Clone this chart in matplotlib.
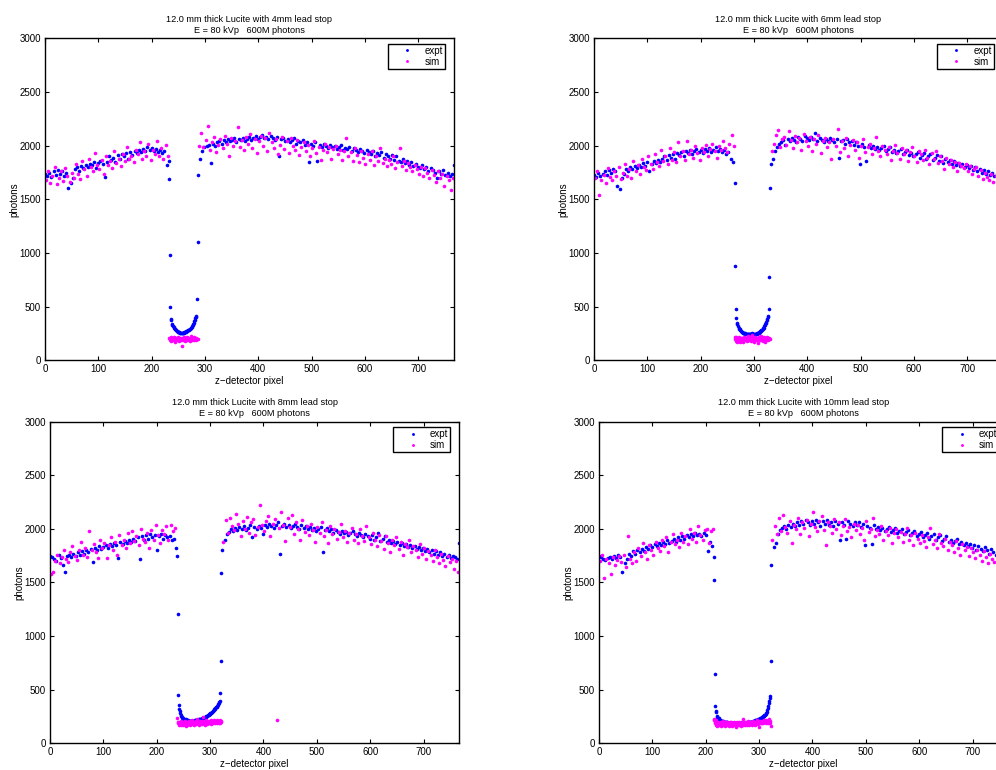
import numpy as np
import matplotlib
matplotlib.use("Agg")
import matplotlib.pyplot as plt

plt.rcParams['font.family'] = ['Liberation Sans', 'DejaVu Sans']
plt.rcParams['font.size'] = 7

# ---- 4 mm lead stop ----
expt_left_4 = [1740, 1720, 1750, 1710, 1760, 1730, 1770, 1740, 1760, 1720,
               1750, 1610, 1650, 1700, 1780, 1800, 1760, 1810, 1790, 1820,
               1800, 1830, 1820, 1850, 1790, 1840, 1860, 1830, 1710, 1850,
               1900, 1870, 1890, 1850, 1910, 1880, 1920, 1900, 1930, 1880,
               1940, 1910, 1950, 1930, 1960, 1940, 1970, 1950, 1990, 1960,
               1980, 1950, 1970, 1940, 1960, 1930, 1950, 1820, 1860]
expt_stop_4 = [1690, 980, 500, 385, 380, 335, 325, 320, 310, 300,
               295, 290, 285, 280, 275, 272, 268, 265, 262, 260,
               258, 255, 255, 252, 255, 255, 258, 255, 260, 262,
               265, 268, 270, 272, 275, 278, 280, 285, 288, 292,
               298, 305, 312, 320, 330, 340, 352, 365, 380, 395,
               405, 415, 570, 1100]
expt_right_4 = [1730, 1880, 1950, 1990, 2000, 2010, 1840, 2020, 2000, 2030,
                2040, 2020, 2050, 2030, 2060, 2040, 2050, 2070, 2030, 2060,
                2050, 2070, 2040, 2060, 2080, 2050, 2070, 2090, 2060, 2080,
                2100, 2070, 2080, 2060, 2090, 2070, 2050, 2080, 1900, 2060,
                2070, 2040, 2060, 2030, 2050, 2070, 2020, 2040, 2030, 2050,
                2010, 2030, 1850, 2020, 2000, 2030, 1860, 2010, 1990, 2020,
                2000, 1980, 2010, 1990, 2000, 1970, 1990, 2010, 1960, 1980,
                1970, 1990, 1950, 1980, 1960, 1940, 1970, 1950, 1930, 1960,
                1940, 1920, 1950, 1900, 1930, 1910, 1940, 1890, 1920, 1900,
                1880, 1910, 1870, 1900, 1860, 1850, 1880, 1840, 1860, 1820,
                1850, 1810, 1830, 1800, 1790, 1820, 1780, 1800, 1760, 1790,
                1770, 1750, 1700, 1760, 1740, 1770, 1730, 1750, 1720, 1740,
                1820]
sim_left_4 = [1680, 1760, 1650, 1720, 1800, 1640, 1700, 1760, 1670, 1790,
              1720, 1660, 1750, 1700, 1830, 1740, 1690, 1860, 1780, 1720,
              1880, 1800, 1760, 1930, 1820, 1780, 1870, 1740, 1900, 1820,
              1860, 1790, 1950, 1840, 1880, 1810, 1920, 1860, 1990, 1880,
              1900, 1850, 1960, 1920, 2030, 1880, 1950, 1900, 2020, 1870,
              1960, 1920, 2040, 1900, 1980, 1880, 2010, 1900]
sim_stop_4 = [210, 190, 205, 180, 215, 195, 200, 185, 220, 190,
              205, 175, 195, 210, 185, 200, 190, 215, 180, 200,
              195, 205, 190, 130, 210, 185, 200, 195, 220, 180,
              205, 190, 200, 215, 185, 195, 210, 190, 200, 180,
              205, 225, 195, 190, 210, 200, 185, 215, 195, 205,
              190, 210, 200, 195]
sim_right_4 = [2000, 2120, 1990, 2050, 2180, 1960, 2030, 2080, 1940, 2010,
               2060, 1980, 2090, 2020, 1900, 2070, 2000, 2040, 2170, 1990,
               2050, 1960, 2080, 2020, 2110, 1980, 2060, 1930, 2040, 2090,
               2000, 2070, 1950, 2120, 2030, 1980, 2060, 1920, 2010, 2080,
               1970, 2040, 1930, 2070, 2000, 1960, 2050, 1910, 1990, 2030,
               1950, 2010, 1900, 1980, 2040, 1930, 1990, 1870, 1960, 2020,
               1940, 1990, 1880, 1970, 2000, 1920, 1960, 1870, 1950, 2070,
               1900, 1940, 1860, 1980, 1910, 1850, 1950, 1890, 1830, 1920,
               1870, 1950, 1820, 1900, 1860, 1980, 1840, 1880, 1810, 1870,
               1830, 1900, 1790, 1850, 1980, 1810, 1860, 1770, 1840, 1800,
               1760, 1820, 1780, 1740, 1800, 1720, 1790, 1750, 1700, 1770,
               1730, 1660, 1760, 1700, 1740, 1620, 1720, 1680, 1590, 1700]

# ---- 6 mm lead stop ----
expt_left_6 = [1730, 1710, 1750, 1720, 1740, 1760, 1730, 1770, 1750, 1780,
               1760, 1620, 1600, 1700, 1740, 1780, 1760, 1800, 1780, 1810,
               1790, 1820, 1800, 1840, 1810, 1850, 1760, 1830, 1860, 1840,
               1870, 1850, 1880, 1900, 1870, 1910, 1890, 1920, 1880, 1930,
               1910, 1940, 1900, 1950, 1930, 1960, 1920, 1950, 1970, 1940,
               1960, 1930, 1970, 1950, 1980, 1940, 1960, 1990, 1950, 1970,
               1940, 1960, 1920, 1940, 1880, 1850]
expt_stop_6 = [1650, 880, 480, 390, 350, 335, 320, 305, 295, 288,
               280, 275, 270, 265, 262, 258, 255, 252, 250, 250,
               248, 247, 246, 245, 245, 244, 244, 245, 243, 245,
               244, 243, 245, 250, 246, 244, 245, 243, 244, 245,
               246, 248, 250, 252, 255, 258, 262, 265, 270, 275,
               280, 285, 292, 298, 305, 315, 325, 335, 345, 358,
               372, 388, 400, 410, 475, 780, 1610]
expt_right_6 = [1830, 1880, 1950, 1990, 2020, 2030, 2050, 2010, 2060, 2040,
                2070, 2050, 2030, 2080, 2060, 2040, 2090, 2070, 2050, 2080,
                2060, 2120, 2040, 2070, 2050, 2030, 2060, 2040, 2070, 2050,
                2030, 2060, 1890, 2040, 2050, 2020, 2060, 2030, 2040, 2010,
                2030, 2000, 1830, 2020, 1990, 1860, 2010, 1980, 2000, 1970,
                1990, 1960, 1980, 2000, 1950, 1970, 1990, 1940, 1960, 1930,
                1950, 1970, 1920, 1940, 1960, 1910, 1930, 1900, 1920, 1940,
                1890, 1910, 1930, 1880, 1900, 1920, 1870, 1890, 1910, 1860,
                1900, 1840, 1880, 1850, 1870, 1830, 1860, 1820, 1840, 1810,
                1830, 1800, 1820, 1790, 1810, 1770, 1800, 1760, 1780, 1750,
                1770, 1740, 1760, 1730, 1750, 1720, 1740, 1710, 1730, 1720]
sim_left_6 = [1700, 1760, 1540, 1680, 1730, 1650, 1790, 1710, 1680, 1760,
              1720, 1800, 1690, 1750, 1830, 1720, 1780, 1700, 1860, 1760,
              1820, 1740, 1880, 1800, 1770, 1900, 1830, 1780, 1920, 1850,
              1810, 1960, 1860, 1900, 1830, 1980, 1870, 1940, 1850, 2030,
              1900, 1950, 1870, 2040, 1920, 1960, 1890, 2000, 1930, 1870,
              1980, 1940, 2010, 1900, 1970, 2020, 1950, 1890, 2000, 1960,
              2040, 1980, 1940, 2020, 2100, 2000]
sim_stop_6 = [215, 195, 220, 180, 205, 170, 200, 185, 215, 190,
              175, 205, 195, 180, 210, 190, 170, 200, 215, 185,
              195, 210, 180, 200, 225, 190, 205, 185, 215, 195,
              180, 210, 200, 240, 190, 205, 175, 215, 195, 185,
              210, 200, 190, 160, 205, 195, 215, 185, 200, 225,
              190, 210, 180, 205, 195, 215, 200, 175, 210, 190,
              205, 220, 195, 185, 210, 200, 195]
sim_right_6 = [1950, 2020, 2100, 2150, 1990, 2060, 2080, 2010, 2140, 2050,
               1980, 2090, 2030, 2070, 1960, 2110, 2040, 2000, 2080, 1950,
               2060, 2020, 2100, 1930, 2040, 2070, 1990, 2030, 1880, 2060,
               2000, 2160, 1940, 2040, 1980, 2070, 1900, 2010, 2050, 1960,
               2030, 1890, 2000, 2060, 1940, 1990, 2020, 1920, 1980, 2080,
               1950, 1900, 2000, 1960, 1920, 1990, 1870, 1950, 2010, 1930,
               1880, 1980, 1920, 1960, 1860, 1940, 1990, 1900, 1850, 1950,
               1920, 1870, 1960, 1890, 1830, 1930, 1880, 1950, 1840, 1900,
               1860, 1780, 1890, 1830, 1870, 1800, 1850, 1760, 1840, 1810,
               1790, 1830, 1760, 1810, 1740, 1780, 1800, 1720, 1770, 1690,
               1750, 1710, 1680, 1740, 1660, 1720, 1690, 1730, 1650]

# ---- 8 mm lead stop ----
expt_left_8 = [1750, 1740, 1720, 1700, 1760, 1730, 1660, 1600, 1750, 1760,
               1740, 1770, 1750, 1780, 1760, 1790, 1770, 1800, 1780, 1810,
               1690, 1820, 1800, 1840, 1810, 1830, 1850, 1820, 1860, 1840,
               1870, 1850, 1730, 1880, 1860, 1890, 1870, 1900, 1880, 1910,
               1890, 1920, 1720, 1930, 1900, 1940, 1910, 1950, 1920, 1940,
               1800, 1930, 1950, 1910, 1940, 1920, 1930, 1900, 1910, 1820]
expt_stop_8 = [1750, 1210, 455, 355, 320, 300, 280, 265, 255, 245,
               238, 232, 228, 225, 222, 220, 218, 230, 216, 215,
               213, 212, 212, 211, 210, 210, 212, 209, 210, 211,
               210, 212, 211, 213, 214, 215, 216, 218, 219, 220,
               221, 222, 222, 224, 226, 228, 230, 232, 234, 236,
               238, 240, 243, 246, 249, 252, 255, 258, 262, 266,
               270, 274, 278, 282, 286, 290, 295, 300, 305, 310,
               316, 322, 328, 335, 342, 350, 358, 366, 375, 385,
               395, 470, 770, 1590]
expt_right_8 = [1800, 1900, 1950, 1970, 2000, 1980, 2010, 1990, 2020, 2000,
                2030, 1990, 2010, 2040, 1920, 2020, 2000, 2030, 2010, 1950,
                2040, 2020, 2050, 2030, 2010, 2040, 2060, 1770, 2030, 2050,
                2020, 2040, 2010, 2030, 2050, 2020, 2000, 2040, 2010, 2030,
                2000, 2020, 1990, 2010, 1980, 2000, 2020, 1780, 1990, 2010,
                1980, 2000, 1960, 1990, 1970, 1950, 1980, 1960, 1970, 1940,
                1960, 1980, 1950, 1930, 1960, 1940, 1920, 1950, 1930, 1910,
                1940, 1900, 1920, 1960, 1890, 1910, 1930, 1880, 1900, 1870,
                1890, 1860, 1880, 1850, 1870, 1840, 1860, 1830, 1850, 1820,
                1840, 1810, 1830, 1800, 1820, 1790, 1810, 1780, 1800, 1770,
                1790, 1760, 1780, 1750, 1770, 1740, 1760, 1730, 1750, 1740,
                1720, 1870]
sim_left_8 = [1580, 1600, 1700, 1760, 1680, 1740, 1800, 1720, 1690, 1780,
              1840, 1750, 1710, 1800, 1880, 1760, 1820, 1740, 1980, 1800,
              1860, 1780, 1730, 1900, 1820, 1870, 1730, 1850, 1920, 1800,
              1880, 1760, 1940, 1850, 1900, 1820, 1960, 1870, 1980, 1890,
              1930, 1850, 2000, 1910, 1880, 1960, 1820, 1990, 1900, 2040,
              1940, 1870, 1990, 1950, 2030, 1900, 2040, 1980, 2010]
sim_stop_8 = [240, 185, 195, 175, 200, 180, 190, 205, 175, 195,
              185, 200, 170, 190, 180, 205, 160, 185, 195, 175,
              200, 180, 190, 210, 175, 195, 185, 200, 180, 215,
              190, 175, 200, 185, 195, 205, 180, 190, 225, 185,
              200, 175, 195, 210, 185, 190, 205, 180, 245, 195,
              185, 200, 175, 195, 215, 190, 180, 205, 195, 185,
              210, 190, 200, 180, 215, 195, 185, 205, 190, 220,
              195, 185, 210, 200, 190, 215, 195, 205, 185, 200,
              220, 190, 205, 195]
sim_right_8 = [1880, 2080, 1960, 2100, 2030, 1990, 2140, 2050, 1930, 2070,
               2000, 2110, 1960, 2060, 2090, 1940, 2020, 2220, 2040, 1980,
               2070, 2120, 1930, 2050, 2090, 217, 2010, 2160, 2040, 1890,
               2100, 2020, 2130, 1950, 2060, 2000, 1900, 2080, 1970, 2030,
               1940, 2050, 1990, 1880, 2020, 1960, 2060, 1930, 1990, 1870,
               2030, 1950, 2000, 1910, 1970, 2050, 1920, 1980, 1880, 1960,
               2010, 1900, 1950, 1870, 2000, 1930, 1890, 2030, 1920, 1860,
               1960, 1900, 1840, 1940, 1890, 1810, 1930, 1870, 1780, 1900,
               1850, 1920, 1810, 1880, 1760, 1860, 1830, 1900, 1780, 1840,
               1800, 1740, 1860, 1770, 1820, 1720, 1790, 1760, 1700, 1800,
               1740, 1680, 1770, 1710, 1650, 1750, 1690, 1720, 1630, 1700, 1600]

# ---- 10 mm lead stop ----
expt_left_10 = [1750, 1740, 1720, 1710, 1730, 1740, 1720, 1750, 1730, 1760,
                1740, 1600, 1680, 1720, 1770, 1750, 1790, 1770, 1800, 1780,
                1810, 1790, 1830, 1810, 1850, 1830, 1860, 1840, 1870, 1850,
                1880, 1860, 1900, 1870, 1890, 1910, 1880, 1920, 1900, 1930,
                1910, 1940, 1920, 1950, 1930, 1960, 1940, 1950, 1930, 1960,
                1940, 1790, 1880, 1840]
expt_stop_10 = [1740, 1520, 650, 345, 300, 290, 255, 245, 240, 232,
                225, 220, 216, 212, 210, 208, 206, 204, 202, 200,
                199, 198, 197, 196, 195, 194,
                193, 192, 192, 191, 190, 190, 189, 189, 188, 188,
                187, 187, 186, 186, 186, 185, 185, 185, 184, 184,
                184, 184, 185, 185, 185, 186, 186, 187, 187, 188,
                188, 189, 189, 190, 190, 191, 192, 192, 193, 194,
                195, 196, 197, 198, 199, 200, 201, 203, 205, 207,
                209, 211, 213, 215, 217, 219, 221, 223, 225, 227,
                229, 232, 235, 238, 241, 244, 248, 252, 256, 260,
                262, 270, 280, 292, 310, 330, 350, 372, 395, 420,
                440, 765]
expt_right_10 = [1660, 1830, 1870, 1950, 1990, 2010, 2030, 2000, 2040, 2020,
                 2050, 2030, 2060, 2040, 2070, 2050, 2080, 2060, 2040, 2070,
                 2050, 2080, 2060, 2030, 2070, 2050, 2080, 2040, 2060, 2030,
                 2070, 2050, 1900, 2060, 2040, 1910, 2070, 2050, 2030, 2060,
                 2040, 2060, 2020, 2050, 1850, 2030, 2010, 1860, 2040, 2000,
                 2020, 1990, 2010, 1980, 2000, 2020, 1970, 1990, 2010, 1960,
                 1980, 2000, 1950, 1970, 1990, 1940, 1960, 1980, 1930, 1950,
                 1970, 1920, 1940, 1960, 1910, 1930, 1950, 1900, 1920, 1940,
                 1890, 1910, 1930, 1880, 1900, 1870, 1890, 1910, 1860, 1880,
                 1850, 1870, 1840, 1860, 1820, 1850, 1800, 1840, 1810, 1790,
                 1830, 1800, 1770, 1810, 1780, 1760, 1790, 1750, 1770, 1740,
                 1760, 1730]
sim_left_10 = [1700, 1760, 1540, 1720, 1680, 1580, 1740, 1660, 1710, 1750,
               1690, 1760, 1640, 1930, 1720, 1680, 1780, 1700, 1820, 1750,
               1870, 1780, 1720, 1850, 1800, 1760, 1880, 1820, 1790, 1900,
               1840, 1920, 1780, 1880, 1950, 1860, 1900, 1830, 1960, 1880,
               1930, 1860, 2000, 1910, 1960, 1880, 2030, 1940, 1900, 1990,
               2000, 1870, 1980, 2000]
sim_stop_10 = [230, 215, 200, 185, 220, 175, 195, 165, 190, 180,
               170, 200, 185, 160, 195, 175, 190, 205, 170, 185,
               180, 165, 195, 175, 200, 185, 170, 190, 180, 160,
               195, 175, 185, 200, 165, 190, 180, 175, 195, 170,
               185, 155, 190, 180, 200, 170, 185, 195, 175, 190,
               180, 165, 200, 185, 175, 230, 190, 180, 170, 195,
               185, 200, 175, 190, 180, 205, 170, 185, 195, 180,
               200, 175, 190, 185, 210, 180, 195, 170, 200, 190,
               185, 215, 195, 180, 200, 150, 190, 205, 185, 195,
               210, 190, 200, 185, 220, 195, 205, 190, 215, 200,
               195, 210, 185, 225, 200, 190, 205, 165]
sim_right_10 = [1900, 2030, 1950, 2100, 1980, 2130, 2020, 1960, 2070, 1870,
                2040, 2000, 2100, 1950, 2060, 2010, 2080, 1930, 2050, 2160,
                2020, 1980, 2070, 2120, 1990, 1850, 2060, 2030, 1960, 2090,
                2000, 2060, 1940, 2030, 2090, 1980, 2020, 1920, 2050, 1990,
                2040, 1950, 2010, 1900, 2070, 1970, 2000, 2100, 1930, 1990,
                1950, 2030, 1900, 1980, 1940, 2010, 1870, 1960, 2000, 1920,
                1970, 1880, 1950, 2010, 1900, 1940, 1850, 1960, 1910, 1870,
                1940, 1890, 1830, 1920, 2010, 1860, 1900, 1820, 1950, 1870,
                1840, 1910, 1800, 1880, 1850, 1780, 1890, 1820, 1760, 1860,
                1800, 1830, 1750, 1820, 1780, 1730, 1800, 1760, 1700, 1790,
                1740, 1680, 1770, 1720, 1690, 1750, 1660, 1720, 1680, 1700, 1650]

stop_sizes = ['4mm', '6mm', '8mm', '10mm']
xticks = [0, 100, 200, 300, 400, 500, 600, 700]
yticks = [0, 500, 1000, 1500, 2000, 2500, 3000]


def series(parts):
    # each part: (first pixel, pixel step, readings)
    xs = [start + step * np.arange(len(vals)) for start, step, vals in parts]
    ys = [np.asarray(vals, dtype=float) for _, _, vals in parts]
    return np.concatenate(xs), np.concatenate(ys)


panels = [
    ([(0, 4, expt_left_4), (233, 1, expt_stop_4), (287, 4, expt_right_4)],
     [(2, 4, sim_left_4), (233, 1, sim_stop_4), (289, 4, sim_right_4)]),
    ([(0, 4, expt_left_6), (264, 1, expt_stop_6), (331, 4, expt_right_6)],
     [(2, 4, sim_left_6), (264, 1, sim_stop_6), (333, 4, sim_right_6)]),
    ([(0, 4, expt_left_8), (238, 1, expt_stop_8), (323, 4, expt_right_8)],
     [(2, 4, sim_left_8), (238, 1, sim_stop_8), (325, 4, sim_right_8)]),
    ([(0, 4, expt_left_10), (215, 1, expt_stop_10), (323, 4, expt_right_10)],
     [(2, 4, sim_left_10), (215, 1, sim_stop_10), (325, 4, sim_right_10)]),
]

# axes boxes in figure fractions (right column runs past the figure edge)
boxes = [[0.0452, 0.5321, 0.4106, 0.4180],
         [0.5964, 0.5321, 0.4106, 0.4180],
         [0.0502, 0.0347, 0.4110, 0.4177],
         [0.6014, 0.0347, 0.4110, 0.4177]]

fig = plt.figure(figsize=(9.96, 7.70), dpi=100)

for box, size, (expt_parts, sim_parts) in zip(boxes, stop_sizes, panels):
    ax = fig.add_axes(box)
    xe, ye = series(expt_parts)
    xs, ys = series(sim_parts)
    ax.plot(xe, ye, 'o', color=(0, 0, 1), markersize=2.6, markeredgewidth=0, label='expt')
    ax.plot(xs, ys, 'o', color=(1, 0, 1), markersize=2.6, markeredgewidth=0, label='sim')

    ax.set_xlim(0, 767)
    ax.set_ylim(0, 3000)
    ax.set_xticks(xticks)
    ax.set_yticks(yticks)
    ax.tick_params(direction='in', length=3, width=0.8, top=True, right=True,
                   labelsize=7, pad=3)
    for sp in ax.spines.values():
        sp.set_linewidth(1.0)

    ax.set_title('12.0 mm thick Lucite with %s lead stop\nE = 80 kVp   600M photons' % size,
                 fontsize=6.6, pad=4, linespacing=1.3)
    ax.set_xlabel('z\u2212detector pixel', fontsize=7, labelpad=1)
    ax.set_ylabel('photons', fontsize=7, labelpad=0)

    # legend box: 9 px in from the right spine, 5.5 px down from the top
    aw = box[2] * 996
    ah = box[3] * 770
    leg = ax.legend(loc='upper right', bbox_to_anchor=(1 - 9 / aw, 1 - 5.5 / ah),
                    borderaxespad=0, fontsize=7, fancybox=False, framealpha=1,
                    edgecolor='black', handlelength=3.6, handletextpad=0.0,
                    borderpad=0.2, labelspacing=0.1, markerscale=0.8)
    leg.get_frame().set_linewidth(1.0)

fig.savefig('out.png', dpi=100)
